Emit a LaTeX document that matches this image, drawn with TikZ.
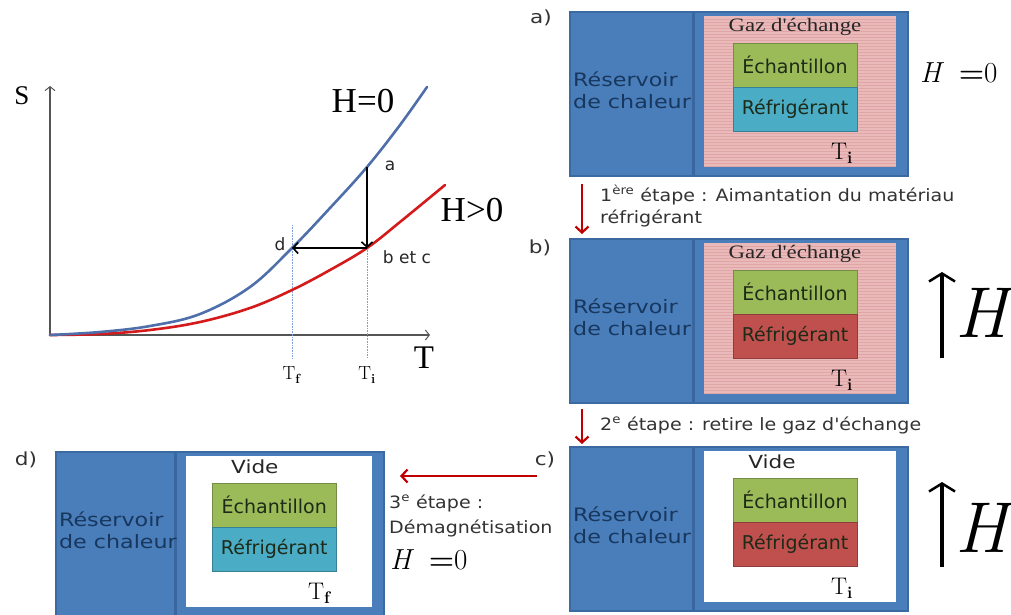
\documentclass[tikz,border=0pt]{standalone}
\usepackage{fontspec}
\usetikzlibrary{arrows.meta}
\newfontfamily\sansf{DejaVu Sans}
\newfontfamily\sansr[FakeStretch=1.2]{DejaVu Sans}
\newfontfamily\sansm[FakeStretch=1.12]{DejaVu Sans}
\newfontfamily\tnr{Liberation Serif}
\newfontfamily\tnrw[FakeStretch=1.2]{Liberation Serif}
\definecolor{boxblue}{HTML}{4A7EBB}
\definecolor{boxedge}{HTML}{3B6AA3}
\definecolor{divblue}{HTML}{3A66A0}
\definecolor{navy}{HTML}{17375E}
\definecolor{gaspink}{HTML}{EAB9B9}
\definecolor{gasline}{HTML}{E0A6A6}
\definecolor{sgreen}{HTML}{9BBB59}
\definecolor{scyan}{HTML}{4BACC6}
\definecolor{sred}{HTML}{C0504D}
\definecolor{txtdark}{HTML}{1E2A18}
\definecolor{arrred}{HTML}{C00000}
\definecolor{curveblue}{HTML}{4F6FAA}
\definecolor{curvered}{HTML}{D41A1A}
\definecolor{axisgray}{HTML}{555555}
\definecolor{guideblue}{HTML}{7F9FD8}
\definecolor{steptext}{HTML}{333333}
\newcommand\fs[1]{\fontsize{#1}{#1}\selectfont}
\tikzset{
 outerbox/.style={draw=boxedge, line width=1.5pt, fill=boxblue},
 divider/.style={draw=divblue, line width=3pt},
 gasfill/.style={fill=gaspink, path picture={\foreach \k in {1,...,52}{\draw[gasline, line width=0.8pt] ([yshift=-\k*3pt]path picture bounding box.north west) -- ([yshift=-\k*3pt]path picture bounding box.north east);}}},
 vacfill/.style={fill=white},
 samp/.style={draw=#1!75!black, line width=1pt, fill=#1, minimum width=124pt, minimum height=44pt, inner sep=0pt, font=\sansf\fs{19}, text=txtdark},
 restxt/.style={font=\sansr\fontsize{18.5}{22}\selectfont, text=navy, align=left, inner sep=0pt, anchor=west},
 gaslab/.style={font=\tnrw\fs{19}, text=black!85},
 vidlab/.style={font=\sansr\fs{18}, text=black!85},
 tlab/.style={font=\fs{24}},
 tag/.style={font=\sansr\fs{18}, text=black!80},
 steptxt/.style={font=\sansm\fontsize{17}{22}\selectfont, text=steptext, align=left, inner sep=0pt, anchor=base west},
 redarr/.style={draw=arrred, line width=2.2pt, -{Straight Barb[length=6pt,width=13pt]}},
 bigarr/.style={draw=black, line width=4.5pt, -{Straight Barb[length=8pt,width=26pt,line width=2.5pt]}},
 axis/.style={draw=axisgray, line width=1.2pt, -{Straight Barb[length=4pt,width=10pt,line width=1pt]}},
 guide/.style={draw=guideblue, line width=0.6pt, densely dotted},
 bluecurve/.style={draw=curveblue, line width=2.6pt, line cap=round},
 redcurve/.style={draw=curvered, line width=2.6pt, line cap=round},
 blkarr/.style={draw=black, line width=2pt, -{Straight Barb[length=5pt,width=11pt,line width=1.6pt]}},
 ptlab/.style={font=\sansf\fs{17}, text=black!85},
 hzero/.style={font=\fs{29}, anchor=base west, inner sep=0pt},
 bigH/.style={font=\itshape\fs{72}, anchor=west, inner sep=0pt},
}
% #1 name, #2 scope options, #3 inner style, #4 top label style, #5 top label x, #6 top text, #7 refrigerant colour, #8 temperature subscript
\newcommand\panel[8]{%
 \begin{scope}[#2]
  \path[outerbox] (0,0) rectangle (338,164);
  \path[#3] (134,4) rectangle (326,155);
  \draw[divider] (123,1) -- (123,163);
  \node[restxt] (#1res) at (3,78) {Réservoir\\de chaleur};
  \node[samp=sgreen] (#1ech) at (225,53) {Échantillon};
  \node[samp=#7] (#1ref) at (225,97) {Réfrigérant};
  \node[#4] (#1top) at (#5,15) {#6};
  \node[tlab] (#1T) at (272,141) {T\textsubscript{\textbf{#8}}};
 \end{scope}}
\begin{document}
\begin{tikzpicture}[x=1pt,y=-1pt]
\useasboundingbox (0,0) rectangle (1011,614);
\clip (0,0) rectangle (1011,614);
% ---------- graph ----------
\coordinate (O) at (50,335);
\coordinate (Yend) at (50,86);
\coordinate (Xend) at (430,335);
\coordinate (pa) at (367,167);
\coordinate (pb) at (367,248);
\coordinate (pd) at (292,248);
\coordinate (Tftop) at (292,225);
\coordinate (Tfbase) at (292,358);
\coordinate (Tibase) at (367,358);
\draw[axis] (O) -- (Yend);
\draw[axis] (O) -- (Xend);
\node[font=\tnr\fs{27}] (Slab) at (22,96) {S};
\node[font=\tnr\fs{33}] (Tlab) at (424,358) {T};
\draw[guide] (Tftop) -- (Tfbase);
\draw[guide] (pb) -- (Tibase);
\draw[redcurve] plot[smooth, tension=0.6] coordinates {(50,335) (100,334) (150,330) (200,322) (250,308) (292,290) (330,270) (367,248) (400,222) (445,185)};
\draw[bluecurve] plot[smooth, tension=0.6] coordinates {(50,335) (100,332) (150,326) (200,314) (250,287) (292,248) (330,208) (367,167) (400,125) (427,87)};
\draw[blkarr] (pa) -- (pb);
\draw[blkarr] (pb) -- (pd);
\node[ptlab] (la) at (390,166) {a};
\node[ptlab] (ld) at (280,244) {d};
\node[ptlab] (lbc) at (407,257) {b et c};
\node[font=\tnr\fs{35}] (H0) at (363,101) {H=0};
\node[font=\tnr\fs{35}] (Hp) at (472,210) {H>0};
\node[font=\fs{19}] (Tf) at (292,375) {T\textsubscript{\textbf{f}}};
\node[font=\fs{19}] (Ti) at (367,375) {T\textsubscript{\textbf{i}}};
% ---------- panels ----------
\panel{a}{shift={(570,12)}}{gasfill}{gaslab}{225}{Gaz d'échange}{scyan}{i}
\panel{b}{shift={(570,239)}}{gasfill}{gaslab}{225}{Gaz d'échange}{sred}{i}
\panel{c}{shift={(570,447)}}{vacfill}{vidlab}{202}{Vide}{sred}{i}
\panel{d}{shift={(56,452)},xscale=0.97}{vacfill}{vidlab}{205}{Vide}{scyan}{f}
% tags
\node[tag] (taga) at (541,18) {a)};
\node[tag] (tagb) at (540,248) {b)};
\node[tag] (tagc) at (545,460) {c)};
\node[tag] (tagd) at (26,460) {d)};
% field labels
\node[hzero] (aH) at (920,82) {\textit{H}\enspace\textbf{=}0};
\node[hzero] (dH) at (390,569) {\textit{H}\enspace\textbf{=}0};
\coordinate (bAb) at (942,358);
\coordinate (bAt) at (942,272);
\draw[bigarr] (bAb) -- (bAt);
\node[bigH] (bH) at (955,313) {H};
\coordinate (cAb) at (942,567);
\coordinate (cAt) at (942,482);
\draw[bigarr] (cAb) -- (cAt);
\node[bigH] (cH) at (955,528) {H};
% steps
\coordinate (s1a) at (582,184);
\coordinate (s1b) at (582,234);
\draw[redarr] (s1a) -- (s1b);
\node[steptxt] (st1) at (600,223) {1\textsuperscript{ère} étape : Aimantation du matériau\\réfrigérant};
\coordinate (s2a) at (582,409);
\coordinate (s2b) at (582,444);
\draw[redarr] (s2a) -- (s2b);
\node[steptxt] (st2) at (600,430) {2\textsuperscript{e} étape : retire le gaz d'échange};
\coordinate (s3a) at (537,476);
\coordinate (s3b) at (400,476);
\draw[redarr] (s3a) -- (s3b);
\node[steptxt, font=\sansm\fontsize{17}{25}\selectfont] (st3) at (389,533) {3\textsuperscript{e} étape :\\Démagnétisation};
\end{tikzpicture}
\end{document}
